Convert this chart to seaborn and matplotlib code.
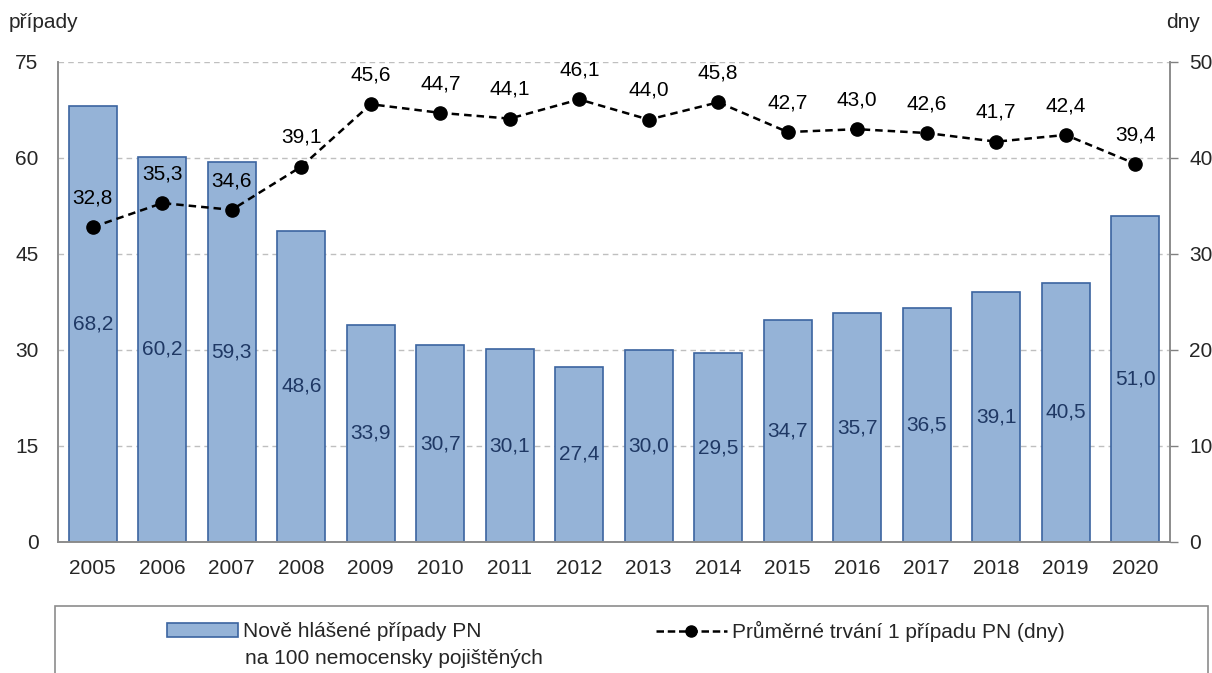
import numpy as np
import pandas as pd
import seaborn as sns
import matplotlib.pyplot as plt
from matplotlib.patches import Rectangle
from matplotlib.lines import Line2D

# data
years = [str(y) for y in range(2005, 2021)]
cases = [68.2, 60.2, 59.3, 48.6, 33.9, 30.7, 30.1, 27.4, 30.0, 29.5, 34.7, 35.7, 36.5, 39.1, 40.5, 51.0]
duration = [32.8, 35.3, 34.6, 39.1, 45.6, 44.7, 44.1, 46.1, 44.0, 45.8, 42.7, 43.0, 42.6, 41.7, 42.4, 39.4]
left_ticks = [0, 15, 30, 45, 60, 75]
right_ticks = [0, 10, 20, 30, 40, 50]

bar_label = ["Nově hlášené případy PN", "na 100 nemocensky pojištěných"]
line_label = "Průměrné trvání 1 případu PN (dny)"

FS = 15


def fmt(v):
    # czech decimal comma
    return f"{v:.1f}".replace(".", ",")


sns.set_style("white")
plt.rcParams["font.family"] = ["Liberation Sans", "DejaVu Sans"]
plt.rcParams["font.size"] = FS

df = pd.DataFrame({"year": years, "cases": cases, "duration": duration})

fig = plt.figure(figsize=(12.12, 6.73), dpi=100)
ax = fig.add_axes([0.0479, 0.1947, 0.9174, 0.7132])

bar_color = "#95B3D7"
edge_color = "#3B64A0"
sns.barplot(data=df, x="year", y="cases", color=bar_color, width=0.69,
            edgecolor=edge_color, linewidth=1.2, saturation=1, ax=ax, zorder=2)

# bar values in the middle of the bars
for i, v in enumerate(df["cases"]):
    ax.text(i, v / 2, fmt(v), ha="center", va="center", color="#1F3864", fontsize=FS, zorder=5)

ax.set_ylim(0, 75)
ax.set_xlim(-0.5, len(years) - 0.5)
ax.set_yticks(left_ticks)
ax.set_xlabel("")
ax.set_ylabel("")
ax.yaxis.grid(True, linestyle=(0, (4, 3)), color="#BFBFBF", linewidth=1)
ax.set_axisbelow(True)
ax.tick_params(axis="y", length=0, labelsize=FS, pad=14)
ax.tick_params(axis="x", length=0, labelsize=FS, pad=12)

ax2 = ax.twinx()
ax2.plot(np.arange(len(years)), df["duration"], color="black", linestyle=(0, (3, 2)),
         linewidth=1.8, marker="o", markersize=9.5, zorder=4)
for i, v in enumerate(df["duration"]):
    ax2.annotate(fmt(v), (i, v), xytext=(0, 21), textcoords="offset points",
                 ha="center", va="center", fontsize=FS, color="black")
ax2.set_ylim(0, 50)
ax2.set_yticks(right_ticks)
ax2.tick_params(axis="y", length=6, width=1, color="#808080", labelsize=FS, pad=8, direction="out")
ax2.set_xlim(-0.5, len(years) - 0.5)

for a in (ax, ax2):
    a.spines["top"].set_visible(False)
    for s in ("left", "right", "bottom"):
        a.spines[s].set_color("#8C8C8C")
        a.spines[s].set_linewidth(1.2)

fig.text(0.007, 0.967, "případy", ha="left", va="center", fontsize=FS)
fig.text(0.99, 0.967, "dny", ha="right", va="center", fontsize=FS)

# legend box running off the bottom edge
fig.patches.append(Rectangle((0.0455, -0.05), 0.951, 0.15, transform=fig.transFigure,
                             facecolor="white", edgecolor="#8C8C8C", linewidth=1.2))
h_bar = Rectangle((0, 0), 1, 1, facecolor=bar_color, edgecolor=edge_color, linewidth=1.2)
h_line = Line2D([], [], color="black", linestyle=(0, (3, 1.5)), linewidth=1.8, marker="o", markersize=8)
fig.legend([h_bar], [bar_label[0]], loc="center left", bbox_to_anchor=(0.138, 0.061),
           frameon=False, fontsize=FS, handlelength=3.4, handleheight=0.7, handletextpad=0.25,
           borderaxespad=0, borderpad=0)
fig.text(0.2021, 0.022, bar_label[1], ha="left", va="center", fontsize=FS)
fig.legend([h_line], [line_label], loc="center left", bbox_to_anchor=(0.541, 0.061),
           frameon=False, fontsize=FS, handlelength=3.4, handletextpad=0.25,
           borderaxespad=0, borderpad=0)

fig.savefig("out.png", dpi=100)
